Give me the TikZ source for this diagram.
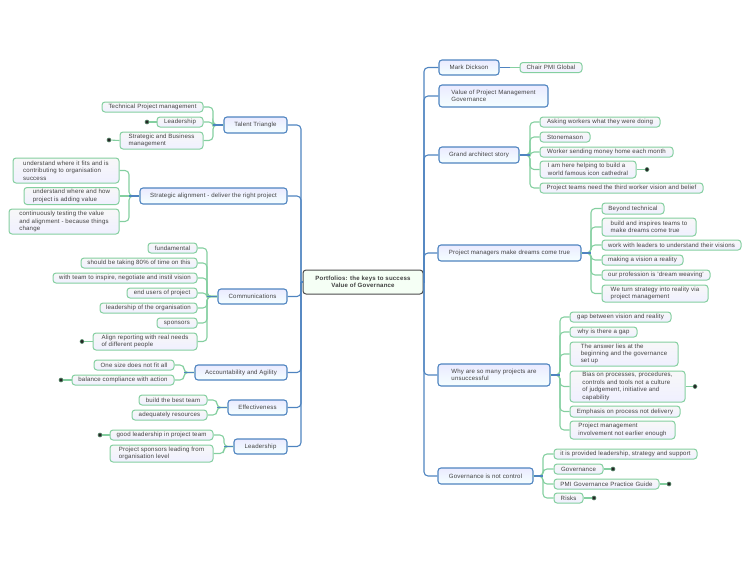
\documentclass[tikz,border=0pt]{standalone}
\usepackage{fontspec}
\setmainfont[LetterSpace=3]{Liberation Sans}
\definecolor{branchblue}{HTML}{4F84C0}
\definecolor{leafgreen}{HTML}{84CFA0}
\definecolor{inkgrey}{HTML}{404040}
\tikzset{
	box/.style={draw, rounded corners=3pt, line width=1pt, inner sep=0pt, align=left, text=inkgrey, font=\fontsize{6.1}{7.4}\selectfont},
	root/.style={box, draw=black!70, fill=green!4!white, align=center, font=\fontsize{6.1}{7.6}\selectfont\bfseries},
	branch/.style={box, draw=branchblue, line width=1.1pt, top color=white!92!blue, bottom color=cyan!4!white},
	leaf/.style={box, draw=leafgreen, top color=black!3, bottom color=blue!6!white},
	dot/.style={circle, draw=leafgreen!70!black, fill=black!85, line width=0.6pt, inner sep=0pt, minimum size=4pt},
	elbow/.style={rounded corners=4pt, to path={-- (\tikztostart -| #1) -- (\tikztotarget -| #1) -- (\tikztotarget)}},
	trunklink/.style={draw=branchblue, line width=1.1pt},
	trunkarm/.style={trunklink, rounded corners=4pt},
	stub/.style={draw=branchblue, line width=1.5pt},
	leaflink/.style={draw=leafgreen, line width=1.1pt},
}
\begin{document}
\begin{tikzpicture}[x=1pt, y=-1pt]
	\useasboundingbox (0, 0) rectangle (750, 563);
	%%%%% centre and main branches %%%%%
	\coordinate (trunkL) at (301, 282);
	\coordinate (trunkR) at (424, 282);
	\coordinate (spineTalent) at (213, 125);
	\coordinate (spineAlign) at (129, 196);
	\coordinate (spineComm) at (207, 296);
	\coordinate (spineAcc) at (184, 372);
	\coordinate (spineEff) at (217, 407);
	\coordinate (spineLead) at (224, 446);
	\coordinate (spineMark) at (510, 68);
	\coordinate (spineGrand) at (530, 155);
	\coordinate (spineDreams) at (591, 253);
	\coordinate (spineWhy) at (560, 375);
	\coordinate (spineGov) at (543, 476);

	\node[root, minimum width=120, minimum height=24] (portfolio) at (363, 282) {Portfolios: the keys to success\\Value of Governance};

	\node[branch, minimum width=63, minimum height=16] (talent) at (255.5, 125) {Talent Triangle};
	\node[branch, minimum width=147, minimum height=16] (alignment) at (213.5, 196) {Strategic alignment - deliver the right project};
	\node[branch, minimum width=69, minimum height=15] (comms) at (252.5, 296.5) {Communications};
	\node[branch, minimum width=92, minimum height=15] (account) at (241, 372.5) {Accountability and Agility};
	\node[branch, minimum width=59, minimum height=15] (effect) at (257.5, 407.5) {Effectiveness};
	\node[branch, minimum width=53, minimum height=15] (leadership) at (260.5, 446.5) {Leadership};

	\node[branch, minimum width=60, minimum height=15] (mark) at (469, 67.5) {Mark Dickson};
	\node[branch, minimum width=109, minimum height=22] (value) at (493.5, 96) {Value of Project Management\\Governance};
	\node[branch, minimum width=80, minimum height=16] (grand) at (479, 155) {Grand architect story};
	\node[branch, minimum width=143, minimum height=16] (dreams) at (509.5, 253) {Project managers make dreams come true};
	\node[branch, minimum width=112, minimum height=22] (unsuccess) at (494, 375) {Why are so many projects are\\unsuccessful};
	\node[branch, minimum width=95, minimum height=16] (govern) at (485.5, 476) {Governance is not control};

	%%%%% left leaves %%%%%
	\node[leaf, minimum width=101, minimum height=10] (techPM) at (152.5, 107) {Technical Project management};
	\node[leaf, minimum width=46, minimum height=10] (leadSmall) at (180, 122) {Leadership};
	\node[leaf, minimum width=83, minimum height=17] (stratBus) at (161.5, 140.5) {Strategic and Business\\management};
	\node[dot] (dotLead) at (147, 122) {};
	\node[dot] (dotStrat) at (109, 140) {};

	\node[leaf, minimum width=106, minimum height=25] (whereFits) at (66, 170.5) {understand where it fits and is\\contributing to organisation\\success};
	\node[leaf, minimum width=95, minimum height=17] (whereHow) at (71.5, 196) {understand where and how\\project is adding value};
	\node[leaf, minimum width=110, minimum height=25] (testing) at (64, 221.5) {continuously testing the value\\and alignment - because things\\change};

	\node[leaf, minimum width=49, minimum height=10] (fundamental) at (172.5, 248) {fundamental};
	\node[leaf, minimum width=116, minimum height=10] (taking) at (139, 263) {should be taking 80\% of time on this};
	\node[leaf, minimum width=144, minimum height=10] (inspire) at (125, 278) {with team to inspire, negotiate and instil vision};
	\node[leaf, minimum width=70, minimum height=10] (endUsers) at (162, 293) {end users of project};
	\node[leaf, minimum width=97, minimum height=10] (leadOrg) at (148.5, 308) {leadership of the organisation};
	\node[leaf, minimum width=40, minimum height=10] (sponsors) at (177, 323) {sponsors};
	\node[leaf, minimum width=104, minimum height=17] (reporting) at (145, 341.5) {Align reporting with real needs\\of different people};
	\node[dot] (dotReport) at (82, 341.5) {};

	\node[leaf, minimum width=80, minimum height=10] (oneSize) at (134, 365) {One size does not fit all};
	\node[leaf, minimum width=102, minimum height=10] (balance) at (123, 380) {balance compliance with action};
	\node[dot] (dotBalance) at (61, 380) {};

	\node[leaf, minimum width=68, minimum height=10] (bestTeam) at (173, 400) {build the best team};
	\node[leaf, minimum width=75, minimum height=10] (resources) at (169.5, 415) {adequately resources};

	\node[leaf, minimum width=103, minimum height=10] (goodLead) at (161.5, 435) {good leadership in project team};
	\node[leaf, minimum width=103, minimum height=17] (sponsorLead) at (161.5, 453.5) {Project sponsors leading from\\organisation level};
	\node[dot] (dotGood) at (100, 435) {};

	%%%%% right leaves %%%%%
	\node[leaf, minimum width=62, minimum height=10] (chair) at (551, 67.5) {Chair PMI Global};

	\node[leaf, minimum width=120, minimum height=10] (asking) at (600, 122) {Asking workers what they were doing};
	\node[leaf, minimum width=50, minimum height=10] (stonemason) at (565, 137) {Stonemason};
	\node[leaf, minimum width=133, minimum height=10] (sending) at (606.5, 152) {Worker sending money home each month};
	\node[leaf, minimum width=96, minimum height=17] (helping) at (588, 169.5) {I am here helping to build a\\world famous icon cathedral};
	\node[leaf, minimum width=163, minimum height=10] (teams) at (621.5, 188) {Project teams need the third worker vision and belief};
	\node[dot] (dotHelping) at (647, 169.5) {};

	\node[leaf, minimum width=62, minimum height=11] (beyond) at (633, 208.5) {Beyond technical};
	\node[leaf, minimum width=94, minimum height=18] (buildTeams) at (649, 227) {build and inspires teams to\\make dreams come true};
	\node[leaf, minimum width=139, minimum height=10] (visions) at (671.5, 245) {work with leaders to understand their visions};
	\node[leaf, minimum width=81, minimum height=10] (making) at (642.5, 260) {making a vision a reality};
	\node[leaf, minimum width=108, minimum height=10] (weaving) at (656, 275) {our profession is 'dream weaving'};
	\node[leaf, minimum width=106, minimum height=17] (turnStrategy) at (655, 293.5) {We turn strategy into reality via\\project management};

	\node[leaf, minimum width=101, minimum height=10] (gap) at (620.5, 317) {gap between vision and reality};
	\node[leaf, minimum width=67, minimum height=10] (whyGap) at (603.5, 332) {why is there a gap};
	\node[leaf, minimum width=108, minimum height=24] (answer) at (624, 354) {The answer lies at the\\beginning and the governance\\set up};
	\node[leaf, minimum width=115, minimum height=31] (bias) at (627.5, 386.5) {Bias on processes, procedures,\\controls and tools not a culture\\of judgement, initiative and\\capability};
	\node[leaf, minimum width=110, minimum height=11] (emphasis) at (625, 411.5) {Emphasis on process not delivery};
	\node[leaf, minimum width=105, minimum height=18] (involve) at (622.5, 430) {Project management\\involvement not earlier enough};
	\node[dot] (dotBias) at (695, 386.5) {};

	\node[leaf, minimum width=143, minimum height=10] (provided) at (625.5, 454) {it is provided leadership, strategy and support};
	\node[leaf, minimum width=49, minimum height=10] (governance) at (578.5, 469) {Governance};
	\node[leaf, minimum width=105, minimum height=10] (guide) at (606.5, 484) {PMI Governance Practice Guide};
	\node[leaf, minimum width=29, minimum height=10] (risks) at (568.5, 498) {Risks};
	\node[dot] (dotGovernance) at (613, 469) {};
	\node[dot] (dotGuide) at (669, 484) {};
	\node[dot] (dotRisks) at (594, 498) {};

	%%%%% connectors %%%%%
	\draw[trunklink] (portfolio.west) -- (trunkL);
	\draw[trunklink] (portfolio.east) -- (trunkR);
	\draw[trunkarm] (talent.east) -- (talent.east -| trunkL) -- (trunkL);
	\draw[trunkarm] (alignment.east) -- (alignment.east -| trunkL) -- (trunkL);
	\draw[trunkarm] (comms.east) -- (comms.east -| trunkL) -- (trunkL);
	\draw[trunkarm] (account.east) -- (account.east -| trunkL) -- (trunkL);
	\draw[trunkarm] (effect.east) -- (effect.east -| trunkL) -- (trunkL);
	\draw[trunkarm] (leadership.east) -- (leadership.east -| trunkL) -- (trunkL);
	\draw[trunkarm] (mark.west) -- (mark.west -| trunkR) -- (trunkR);
	\draw[trunkarm] (value.west) -- (value.west -| trunkR) -- (trunkR);
	\draw[trunkarm] (grand.west) -- (grand.west -| trunkR) -- (trunkR);
	\draw[trunkarm] (dreams.west) -- (dreams.west -| trunkR) -- (trunkR);
	\draw[trunkarm] (unsuccess.west) -- (unsuccess.west -| trunkR) -- (trunkR);
	\draw[trunkarm] (govern.west) -- (govern.west -| trunkR) -- (trunkR);

	\draw[leaflink] (talent.west) to[elbow=spineTalent] (techPM.east);
	\draw[leaflink] (talent.west) to[elbow=spineTalent] (leadSmall.east);
	\draw[leaflink] (talent.west) to[elbow=spineTalent] (stratBus.east);
	\draw[leaflink] (leadSmall.west) -- (dotLead);
	\draw[leaflink] (stratBus.west) -- (dotStrat);
	\draw[leaflink] (alignment.west) to[elbow=spineAlign] (whereFits.east);
	\draw[leaflink] (alignment.west) -- (whereHow.east);
	\draw[leaflink] (alignment.west) to[elbow=spineAlign] (testing.east);
	\draw[leaflink] (comms.west) to[elbow=spineComm] (fundamental.east);
	\draw[leaflink] (comms.west) to[elbow=spineComm] (taking.east);
	\draw[leaflink] (comms.west) to[elbow=spineComm] (inspire.east);
	\draw[leaflink] (comms.west) to[elbow=spineComm] (endUsers.east);
	\draw[leaflink] (comms.west) to[elbow=spineComm] (leadOrg.east);
	\draw[leaflink] (comms.west) to[elbow=spineComm] (sponsors.east);
	\draw[leaflink] (comms.west) to[elbow=spineComm] (reporting.east);
	\draw[leaflink] (reporting.west) -- (dotReport);
	\draw[leaflink] (account.west) to[elbow=spineAcc] (oneSize.east);
	\draw[leaflink] (account.west) to[elbow=spineAcc] (balance.east);
	\draw[leaflink] (balance.west) -- (dotBalance);
	\draw[leaflink] (effect.west) to[elbow=spineEff] (bestTeam.east);
	\draw[leaflink] (effect.west) to[elbow=spineEff] (resources.east);
	\draw[leaflink] (leadership.west) to[elbow=spineLead] (goodLead.east);
	\draw[leaflink] (leadership.west) to[elbow=spineLead] (sponsorLead.east);
	\draw[leaflink] (goodLead.west) -- (dotGood);

	\draw[leaflink] (mark.east) -- (chair.west);
	\draw[leaflink] (grand.east) to[elbow=spineGrand] (asking.west);
	\draw[leaflink] (grand.east) to[elbow=spineGrand] (stonemason.west);
	\draw[leaflink] (grand.east) to[elbow=spineGrand] (sending.west);
	\draw[leaflink] (grand.east) to[elbow=spineGrand] (helping.west);
	\draw[leaflink] (grand.east) to[elbow=spineGrand] (teams.west);
	\draw[leaflink] (helping.east) -- (dotHelping);
	\draw[leaflink] (dreams.east) to[elbow=spineDreams] (beyond.west);
	\draw[leaflink] (dreams.east) to[elbow=spineDreams] (buildTeams.west);
	\draw[leaflink] (dreams.east) to[elbow=spineDreams] (visions.west);
	\draw[leaflink] (dreams.east) to[elbow=spineDreams] (making.west);
	\draw[leaflink] (dreams.east) to[elbow=spineDreams] (weaving.west);
	\draw[leaflink] (dreams.east) to[elbow=spineDreams] (turnStrategy.west);
	\draw[leaflink] (unsuccess.east) to[elbow=spineWhy] (gap.west);
	\draw[leaflink] (unsuccess.east) to[elbow=spineWhy] (whyGap.west);
	\draw[leaflink] (unsuccess.east) to[elbow=spineWhy] (answer.west);
	\draw[leaflink] (unsuccess.east) to[elbow=spineWhy] (bias.west);
	\draw[leaflink] (unsuccess.east) to[elbow=spineWhy] (emphasis.west);
	\draw[leaflink] (unsuccess.east) to[elbow=spineWhy] (involve.west);
	\draw[leaflink] (bias.east) -- (dotBias);
	\draw[leaflink] (govern.east) to[elbow=spineGov] (provided.west);
	\draw[leaflink] (govern.east) to[elbow=spineGov] (governance.west);
	\draw[leaflink] (govern.east) to[elbow=spineGov] (guide.west);
	\draw[leaflink] (govern.east) to[elbow=spineGov] (risks.west);
	\draw[leaflink] (governance.east) -- (dotGovernance);
	\draw[leaflink] (guide.east) -- (dotGuide);
	\draw[leaflink] (risks.east) -- (dotRisks);

	%%%%% blue stubs %%%%%
	\draw[stub] (talent.west) -- (talent.west -| spineTalent);
	\draw[stub] (alignment.west) -- (alignment.west -| spineAlign);
	\draw[stub] (comms.west) -- (comms.west -| spineComm);
	\draw[stub] (account.west) -- (account.west -| spineAcc);
	\draw[stub] (effect.west) -- (effect.west -| spineEff);
	\draw[stub] (leadership.west) -- (leadership.west -| spineLead);
	\draw[stub] (mark.east) -- (mark.east -| spineMark);
	\draw[stub] (grand.east) -- (grand.east -| spineGrand);
	\draw[stub] (dreams.east) -- (dreams.east -| spineDreams);
	\draw[stub] (unsuccess.east) -- (unsuccess.east -| spineWhy);
	\draw[stub] (govern.east) -- (govern.east -| spineGov);
\end{tikzpicture}
\end{document}
